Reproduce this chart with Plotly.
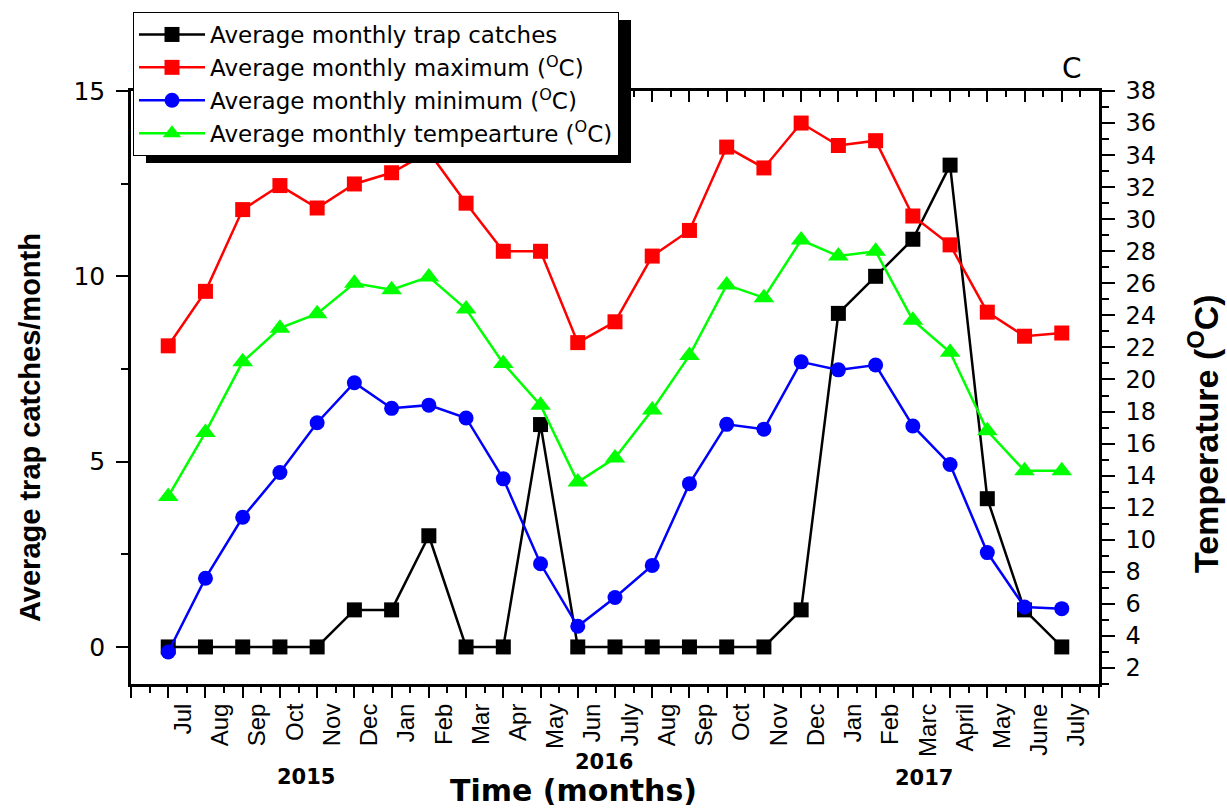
import plotly.graph_objects as go

# ---------------- data ----------------
months = ["Jul", "Aug", "Sep", "Oct", "Nov", "Dec", "Jan", "Feb", "Mar", "Apr", "May", "Jun",
          "July", "Aug", "Sep", "Oct", "Nov", "Dec", "Jan", "Feb", "Marc", "April", "May", "June", "July"]
trap_catches = [0, 0, 0, 0, 0, 1, 1, 3, 0, 0, 6, 0, 0, 0, 0, 0, 0, 1, 9, 10, 11, 13, 4, 1, 0]
temp_max = [22.1, 25.5, 30.6, 32.1, 30.7, 32.2, 32.9, 34.2, 31.0, 28.0, 28.0, 22.3, 23.6,
            27.7, 29.3, 34.5, 33.2, 36.0, 34.6, 34.9, 30.2, 28.4, 24.2, 22.7, 22.9]
temp_min = [3.0, 7.6, 11.4, 14.2, 17.3, 19.8, 18.2, 18.4, 17.6, 13.8, 8.5, 4.6, 6.4,
            8.4, 13.5, 17.2, 16.9, 21.1, 20.6, 20.9, 17.1, 14.7, 9.2, 5.8, 5.7]
temp_mean = [12.7, 16.7, 21.1, 23.2, 24.1, 26.0, 25.6, 26.4, 24.4, 21.0, 18.4, 13.6, 15.1,
             18.1, 21.5, 25.9, 25.1, 28.7, 27.7, 28.0, 23.7, 21.7, 16.8, 14.3, 14.3]
years = ["2015", "2016", "2017"]
year_pos = [3.7, 11.7, 20.3]

x = list(range(len(months)))

W, H = 1227, 808
L, R, T, B = 131, 128, 91, 124
PW, PH = W - L - R, H - T - B


def px_x(p):
    return (p - L) / PW


def px_y(p):
    return (H - B - p) / PH


SANS = "Liberation Sans, Arial, sans-serif"
WIDE = "DejaVu Sans, Liberation Sans, sans-serif"

fig = go.Figure()
fig.add_trace(go.Scatter(
    x=x, y=trap_catches, name="Average monthly trap catches", mode="lines+markers",
    line=dict(color="black", width=2.5),
    marker=dict(symbol="square", size=15, color="black"),
    xaxis="x", yaxis="y"))
fig.add_trace(go.Scatter(
    x=x, y=temp_max, name="Average monthly maximum (<sup>O</sup>C)", mode="lines+markers",
    line=dict(color="#ff0000", width=2.5),
    marker=dict(symbol="square", size=15, color="#ff0000"),
    xaxis="x", yaxis="y2"))
fig.add_trace(go.Scatter(
    x=x, y=temp_min, name="Average monthly minimum (<sup>O</sup>C)", mode="lines+markers",
    line=dict(color="#0000ff", width=2.5),
    marker=dict(symbol="circle", size=15, color="#0000ff"),
    xaxis="x", yaxis="y2"))
fig.add_trace(go.Scatter(
    x=x, y=temp_mean, name="Average monthly tempearture (<sup>O</sup>C)", mode="lines+markers",
    line=dict(color="#00ff00", width=2.5),
    marker=dict(symbol="triangle-up", size=18, color="#00ff00"),
    xaxis="x", yaxis="y2"))
# invisible helpers so the label axis and the top axis are drawn
fig.add_trace(go.Scatter(x=x, y=trap_catches, mode="markers", marker=dict(opacity=0),
                         showlegend=False, hoverinfo="skip", xaxis="x2", yaxis="y"))
fig.add_trace(go.Scatter(x=x, y=trap_catches, mode="markers", marker=dict(opacity=0),
                         showlegend=False, hoverinfo="skip", xaxis="x3", yaxis="y"))

axis_common = dict(showgrid=False, zeroline=False, linecolor="black", linewidth=2.5,
                   tickcolor="black", tickwidth=2)

fig.update_layout(
    width=W, height=H,
    margin=dict(l=L, r=R, t=T, b=B),
    paper_bgcolor="white", plot_bgcolor="white",
    showlegend=True,
    xaxis=dict(range=[-1, 25], tickmode="linear", tick0=-1, dtick=1, ticks="outside",
               ticklen=11, showticklabels=False, showline=True,
               minor=dict(ticks="outside", ticklen=6, dtick=0.5, tick0=-1, tickcolor="black", tickwidth=2),
               **axis_common),
    xaxis2=dict(range=[-1, 25], overlaying="x", anchor="y", side="bottom",
                tickmode="array", tickvals=[i + 0.4 for i in x], ticktext=months,
                ticks="outside", ticklen=9, tickcolor="rgba(0,0,0,0)", tickangle=-90,
                showline=False, showgrid=False, zeroline=False,
                tickfont=dict(family=SANS, size=24, color="black")),
    xaxis3=dict(range=[-1, 25], overlaying="x", anchor="y", side="top",
                tickmode="linear", tick0=-1, dtick=1, ticks="inside", ticklen=11,
                showticklabels=False, showline=True,
                minor=dict(ticks="inside", ticklen=6, dtick=0.5, tick0=-1, tickcolor="black", tickwidth=2),
                **axis_common),
    yaxis=dict(range=[-1, 15], tickmode="linear", tick0=0, dtick=5, ticks="outside",
               ticklen=12, showline=True, ticklabelstandoff=6,
               minor=dict(ticks="outside", ticklen=7, dtick=2.5, tick0=0, tickcolor="black", tickwidth=2),
               tickfont=dict(family=WIDE, size=25, color="black"),
               **axis_common),
    yaxis2=dict(range=[1, 38], overlaying="y", side="right", anchor="x",
                tickmode="linear", tick0=0, dtick=2, ticks="outside", ticklen=13,
                showline=True, ticklabelstandoff=6,
                minor=dict(ticks="outside", ticklen=7, dtick=1, tick0=0, tickcolor="black", tickwidth=2),
                tickfont=dict(family=WIDE, size=24, color="black"),
                **axis_common),
    legend=dict(x=px_x(133), y=px_y(12), xanchor="left", yanchor="top",
                bgcolor="white", bordercolor="black", borderwidth=1,
                font=dict(family=WIDE, size=23, color="black"),
                tracegroupgap=0, itemwidth=66),
)

# legend drop shadow (offset copy of the legend box)
fig.add_shape(type="rect", xref="paper", yref="paper",
              x0=px_x(146), x1=px_x(631), y0=px_y(163), y1=px_y(20),
              fillcolor="black", line=dict(width=0), layer="above")

annotations = []
for yr, pos, ypx in zip(years, year_pos, [777, 762, 778]):
    annotations.append(dict(text=yr, x=pos, xref="x", y=px_y(ypx), yref="paper",
                            showarrow=False, xanchor="center", yanchor="middle",
                            font=dict(family=WIDE, size=21, color="black", weight="bold")))
annotations.append(dict(text="Time (months)", x=px_x(573), xref="paper", y=px_y(790), yref="paper",
                        showarrow=False, xanchor="center", yanchor="middle",
                        font=dict(family=WIDE, size=30, color="black", weight="bold")))
annotations.append(dict(text="Average trap catches/month", x=px_x(30), xref="paper",
                        y=px_y(428), yref="paper", textangle=-90,
                        showarrow=False, xanchor="center", yanchor="middle",
                        font=dict(family=SANS, size=29, color="black", weight="bold")))
annotations.append(dict(text="Temperature (<sup>O</sup>C)", x=px_x(1203), xref="paper",
                        y=px_y(434), yref="paper", textangle=-90,
                        showarrow=False, xanchor="center", yanchor="middle",
                        font=dict(family=SANS, size=34, color="black", weight="bold")))
annotations.append(dict(text="C", x=px_x(1072), xref="paper", y=px_y(69), yref="paper",
                        showarrow=False, xanchor="center", yanchor="middle",
                        font=dict(family=WIDE, size=28, color="black")))
fig.update_layout(annotations=annotations)

fig.write_html("out.html")
